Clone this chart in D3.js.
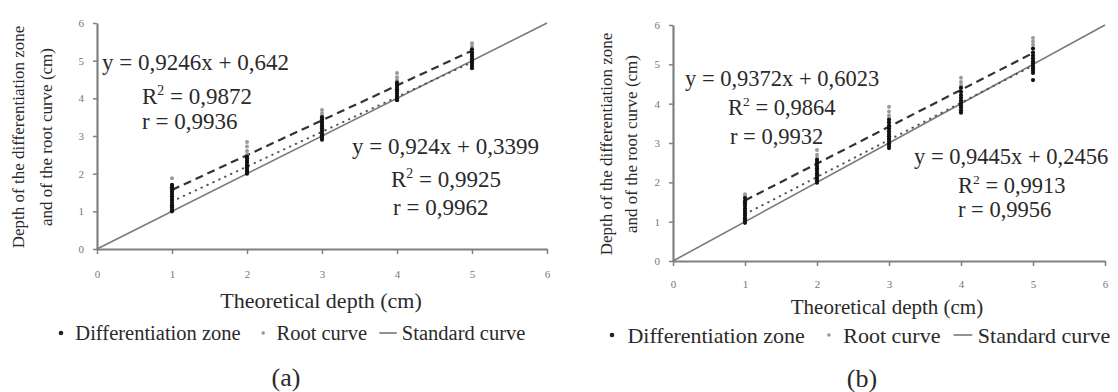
<!DOCTYPE html>
<html>
<head>
<meta charset="utf-8">
<script src="https://cdn.jsdelivr.net/npm/d3@7"></script>
<style>
  body { margin: 0; background: #fff; }
  svg { display: block; }
  text { font-family: "Liberation Serif", "Times New Roman", serif; fill: #2a2a2a; }
</style>
</head>
<body>
<svg id="chart" width="1118" height="392"></svg>
<script>
// x positions of the measurements (theoretical depth, cm)
const depths = [1, 2, 3, 4, 5];
const axisTicks = [0, 1, 2, 3, 4, 5, 6];

// panel (a) measurements, one list per depth
const diffZoneA = [
    [1.0, 1.04, 1.1, 1.16, 1.22, 1.28, 1.33, 1.4, 1.46, 1.52, 1.58, 1.64, 1.7],
    [2.0, 2.05, 2.1, 2.16, 2.22, 2.28, 2.34, 2.4, 2.45],
    [2.9, 2.96, 3.02, 3.08, 3.14, 3.2, 3.26, 3.32, 3.38, 3.44, 3.5],
    [3.95, 4.0, 4.06, 4.12, 4.18, 4.24, 4.3, 4.36, 4.42],
    [4.8, 4.86, 4.92, 4.98, 5.04, 5.1, 5.16, 5.22, 5.3]
];
const rootCurveA = [
    [1.88, 1.62],
    [2.84, 2.72, 2.6, 2.5],
    [3.69, 3.6, 3.52],
    [4.67, 4.56, 4.48],
    [5.46, 5.38]
];
// panel (b) measurements
const diffZoneB = [
    [0.97, 1.03, 1.09, 1.15, 1.21, 1.27, 1.33, 1.4, 1.46, 1.52, 1.6],
    [1.99, 2.05, 2.11, 2.17, 2.23, 2.3, 2.36, 2.42, 2.5, 2.57],
    [2.87, 2.93, 2.99, 3.05, 3.11, 3.17, 3.23, 3.3, 3.37, 3.44, 3.52, 3.59],
    [3.77, 3.83, 3.9, 3.96, 4.02, 4.08, 4.15, 4.22, 4.3, 4.4],
    [4.6, 4.78, 4.84, 4.9, 4.96, 5.02, 5.08, 5.15, 5.22, 5.3, 5.4]
];
const rootCurveB = [
    [1.7, 1.64],
    [2.82, 2.7, 2.62],
    [3.92, 3.8, 3.7, 3.62],
    [4.66, 4.55, 4.46],
    [5.67, 5.58, 5.5]
];

// fitted lines [slope, intercept]
const upperFitA = [0.9246, 0.642];
const lowerFitA = [0.924, 0.3399];
const upperFitB = [0.9372, 0.6023];
const lowerFitB = [0.9445, 0.2456];
const standardCurve = [[0, 0], [6, 6]];

// equation labels
const upperLabelsA = ['y = 0,9246x + 0,642', '0,9872', 'r = 0,9936'];
const lowerLabelsA = ['y = 0,924x + 0,3399', '0,9925', 'r = 0,9962'];
const upperLabelsB = ['y = 0,9372x + 0,6023', '0,9864', 'r = 0,9932'];
const lowerLabelsB = ['y = 0,9445x + 0,2456', '0,9913', 'r = 0,9956'];

const legendLabels = ['Differentiation zone', 'Root curve', 'Standard curve'];
const xTitle = 'Theoretical depth (cm)';
const yTitle = ['Depth of the differentiation zone', 'and of the root curve (cm)'];

const svg = d3.select('#chart');

function drawPanel(p) {
    const g = svg.append('g');
    const x = d3.scaleLinear().domain([0, 6]).range([p.left, p.right]);
    const y = d3.scaleLinear().domain([0, 6]).range([p.bottom, p.top]);

    // axes
    const xAxis = g.append('g')
        .attr('transform', `translate(0,${p.bottom})`)
        .call(d3.axisBottom(x).tickValues(axisTicks).tickFormat(d3.format('d'))
            .tickSize(5).tickPadding(p.xPad).tickSizeOuter(0));
    const yAxis = g.append('g')
        .attr('transform', `translate(${p.left},0)`)
        .call(d3.axisLeft(y).tickValues(axisTicks).tickFormat(d3.format('d'))
            .tickSize(4).tickPadding(9).tickSizeOuter(0));
    [xAxis, yAxis].forEach(a => {
        a.select('.domain').attr('stroke', '#808080').attr('stroke-width', 2.2);
        a.selectAll('.tick line').attr('stroke', '#808080').attr('stroke-width', 1.5);
        a.selectAll('.tick text')
            .attr('font-family', '"Liberation Serif", serif')
            .attr('font-size', 11)
            .style('fill', '#777');
    });

    // standard curve (y = x)
    g.append('path')
        .datum(standardCurve)
        .attr('fill', 'none')
        .attr('stroke', '#7a7a7a')
        .attr('stroke-width', 1.6)
        .attr('d', d3.line().x(d => x(d[0])).y(d => y(d[1])));

    // fitted lines over the measured range
    const fitLine = (fit) => d3.line().x(d => x(d)).y(d => y(fit[0] * d + fit[1]))([depths[0], depths[depths.length - 1]]);
    g.append('path')
        .attr('fill', 'none')
        .attr('stroke', '#333')
        .attr('stroke-width', 2.2)
        .attr('stroke-dasharray', '8,5')
        .attr('d', fitLine(p.upperFit));
    g.append('path')
        .attr('fill', 'none')
        .attr('stroke', '#555')
        .attr('stroke-width', 2)
        .attr('stroke-linecap', 'round')
        .attr('stroke-dasharray', '0.5,6')
        .attr('d', fitLine(p.lowerFit));

    // points
    const flat = (arr) => arr.flatMap((vals, i) => vals.map(v => ({ x: depths[i], v })));
    g.selectAll('.root').data(flat(p.root)).join('circle')
        .attr('cx', d => x(d.x)).attr('cy', d => y(d.v)).attr('r', 2)
        .attr('fill', '#9a9a9a');
    g.selectAll('.diff').data(flat(p.diff)).join('circle')
        .attr('cx', d => x(d.x)).attr('cy', d => y(d.v)).attr('r', 2.1)
        .attr('fill', '#111');

    // equation labels
    const eq = (labels, pos) => {
        g.append('text').attr('x', pos[0][0]).attr('y', pos[0][1] + 7)
            .attr('font-size', p.eqSize).text(labels[0]);
        const t = g.append('text').attr('x', pos[1][0]).attr('y', pos[1][1] + 7)
            .attr('font-size', p.eqSize);
        t.append('tspan').text('R');
        t.append('tspan').attr('dy', -9).attr('font-size', p.eqSize * 0.6).text('2');
        t.append('tspan').attr('dy', 9).text(' = ' + labels[1]);
        g.append('text').attr('x', pos[2][0]).attr('y', pos[2][1] + 7)
            .attr('font-size', p.eqSize).text(labels[2]);
    };
    eq(p.upperLabels, p.upperPos);
    eq(p.lowerLabels, p.lowerPos);

    // axis titles
    g.append('text')
        .attr('x', p.xTitle[0]).attr('y', p.xTitle[1])
        .attr('text-anchor', 'middle').attr('dominant-baseline', 'central')
        .attr('font-size', p.xTitleSize).text(xTitle);
    yTitle.forEach((line, i) => {
        g.append('text')
            .attr('transform', `translate(${p.yTitle[i]},${p.yTitleY}) rotate(-90)`)
            .attr('text-anchor', 'middle').attr('dominant-baseline', 'central')
            .attr('font-size', p.yTitleSize).text(line);
    });

    // legend
    let lx = p.legend[0];
    const ly = p.legend[1];
    const fs = p.legendSize;
    g.append('circle').attr('cx', lx).attr('cy', ly).attr('r', 2.3).attr('fill', '#222');
    lx += fs * 0.7;
    let t = g.append('text').attr('x', lx).attr('y', ly).attr('dominant-baseline', 'central')
        .attr('font-size', fs).text(legendLabels[0]);
    lx += t.node().getComputedTextLength() + fs * 1.1;
    g.append('circle').attr('cx', lx).attr('cy', ly).attr('r', 1.8).attr('fill', '#999');
    lx += fs * 0.65;
    t = g.append('text').attr('x', lx).attr('y', ly).attr('dominant-baseline', 'central')
        .attr('font-size', fs).text(legendLabels[1]);
    lx += t.node().getComputedTextLength() + fs * 0.6;
    g.append('line').attr('x1', lx).attr('x2', lx + fs * 0.85).attr('y1', ly).attr('y2', ly)
        .attr('stroke', '#777').attr('stroke-width', 1.6);
    lx += fs * 1.1;
    g.append('text').attr('x', lx).attr('y', ly).attr('dominant-baseline', 'central')
        .attr('font-size', fs).text(legendLabels[2]);

    // panel letter
    g.append('text')
        .attr('x', p.letter[0]).attr('y', p.letter[1])
        .attr('text-anchor', 'middle').attr('dominant-baseline', 'central')
        .attr('font-size', 26).text(p.letterText);
}

drawPanel({
    left: 97, right: 547, top: 23, bottom: 249, xPad: 16,
    diff: diffZoneA, root: rootCurveA,
    upperFit: upperFitA, lowerFit: lowerFitA,
    upperLabels: upperLabelsA, lowerLabels: lowerLabelsA,
    upperPos: [[102, 63], [142, 97], [142, 122]],
    lowerPos: [[352, 147], [391, 180], [393, 208]],
    eqSize: 23,
    xTitle: [321, 300], xTitleSize: 22,
    yTitle: [18, 46], yTitleY: 137, yTitleSize: 17,
    legend: [61, 333], legendSize: 20.5,
    letter: [286, 377], letterText: '(a)'
});

drawPanel({
    left: 673, right: 1105, top: 25, bottom: 261, xPad: 14,
    diff: diffZoneB, root: rootCurveB,
    upperFit: upperFitB, lowerFit: lowerFitB,
    upperLabels: upperLabelsB, lowerLabels: lowerLabelsB,
    upperPos: [[685, 79], [728, 108], [730, 137]],
    lowerPos: [[914, 157], [958, 186], [958, 210]],
    eqSize: 22.5,
    xTitle: [887, 307], xTitleSize: 21,
    yTitle: [606, 631], yTitleY: 144, yTitleSize: 17,
    legend: [612, 335], legendSize: 22,
    letter: [862, 378], letterText: '(b)'
});
</script>
</body>
</html>
